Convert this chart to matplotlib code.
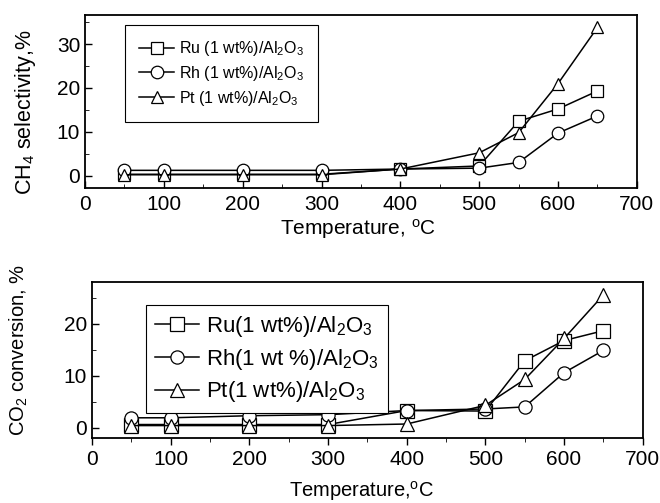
import numpy as np
import matplotlib
matplotlib.use("Agg")
import matplotlib.pyplot as plt
from matplotlib.ticker import MultipleLocator

plt.rcParams['font.family'] = ['Liberation Sans', 'DejaVu Sans']
plt.rcParams['mathtext.fontset'] = 'custom'
plt.rcParams['mathtext.rm'] = 'Liberation Sans'
plt.rcParams['mathtext.it'] = 'Liberation Sans:italic'

# data
temp = [50, 100, 200, 300, 400, 500, 550, 600, 650]

ru_ch4 = [0.3, 0.3, 0.3, 0.3, 1.5, 2.2, 12.4, 15.2, 19.3]
rh_ch4 = [1.2, 1.2, 1.2, 1.2, 1.5, 1.7, 3.0, 9.7, 13.6]
pt_ch4 = [0.2, 0.2, 0.2, 0.2, 1.5, 5.2, 9.8, 21.0, 33.8]

ru_co2 = [0.6, 0.6, 0.6, 0.6, 3.3, 3.2, 12.9, 16.8, 18.7]
rh_co2 = [1.9, 1.9, 2.3, 2.5, 3.3, 3.6, 4.0, 10.6, 14.9]
pt_co2 = [0.4, 0.4, 0.4, 0.4, 0.7, 4.3, 9.3, 17.2, 25.6]

top_labels = ['Ru (1 wt%)/Al$_2$O$_3$', 'Rh (1 wt%)/Al$_2$O$_3$', 'Pt (1 wt%)/Al$_2$O$_3$']
bot_labels = ['Ru(1 wt%)/Al$_2$O$_3$', 'Rh(1 wt %)/Al$_2$O$_3$', 'Pt(1 wt%)/Al$_2$O$_3$']
markers = ['s', 'o', '^']

fig = plt.figure(figsize=(6.6, 5.03), dpi=100)
ax1 = fig.add_axes([0.1288, 0.6256, 0.8362, 0.3452])
ax2 = fig.add_axes([0.1394, 0.1292, 0.8344, 0.3102])


def draw(ax, series, labels, ms):
    for ys, m, lab in zip(series, markers, labels):
        ax.plot(temp, ys, color='black', lw=1.1, marker=m, ms=ms,
                mfc='white', mec='black', mew=0.9, label=lab)
    ax.set_xlim(0, 700)
    ax.xaxis.set_major_locator(MultipleLocator(100))
    ax.xaxis.set_minor_locator(MultipleLocator(50))
    ax.yaxis.set_major_locator(MultipleLocator(10))
    ax.yaxis.set_minor_locator(MultipleLocator(5))
    for s in ax.spines.values():
        s.set_linewidth(1.3)
    ax.tick_params(labelsize=15, width=1.0)
    ax.tick_params(which='major', length=5)
    ax.tick_params(which='minor', length=3)


draw(ax1, [ru_ch4, rh_ch4, pt_ch4], top_labels, 9)
ax1.set_ylim(-2.9, 36.7)
ax1.tick_params(axis='both', which='both', direction='in')
ax1.tick_params(axis='x', pad=5)
ax1.set_xlabel('Temperature, $^{\\rm o}$C', fontsize=15)
ax1.set_ylabel('CH$_4$ selectivity,%', fontsize=15.5)
ax1.xaxis.set_label_coords(0.495, -0.165)
ax1.yaxis.set_label_coords(-0.085, 0.44)
leg1 = ax1.legend(loc='upper left', bbox_to_anchor=(0.072, 0.94), borderaxespad=0,
                  fontsize=11.5, numpoints=1, handlelength=2.2, handletextpad=0.3,
                  fancybox=False, edgecolor='black', framealpha=1,
                  labelspacing=0.35, borderpad=0.9)
leg1.get_frame().set_linewidth(0.8)

draw(ax2, [ru_co2, rh_co2, pt_co2], bot_labels, 9.5)
ax2.set_ylim(-2, 28.1)
ax2.tick_params(axis='y', which='both', direction='in')
ax2.tick_params(axis='x', which='both', direction='out')
ax2.set_xlabel('Temperature,$^{\\rm o}$C', fontsize=14.5)
ax2.set_ylabel('CO$_2$ conversion, %', fontsize=14.5)
ax2.xaxis.set_label_coords(0.49, -0.265)
ax2.yaxis.set_label_coords(-0.113, 0.564)
leg2 = ax2.legend(loc='upper left', bbox_to_anchor=(0.0975, 0.853), borderaxespad=0,
                  fontsize=16, numpoints=1, handlelength=2.0, handletextpad=0.3,
                  fancybox=False, edgecolor='black', framealpha=1,
                  labelspacing=0.35, borderpad=0.4)
leg2.get_frame().set_linewidth(0.8)

fig.savefig('out.png', dpi=100)
